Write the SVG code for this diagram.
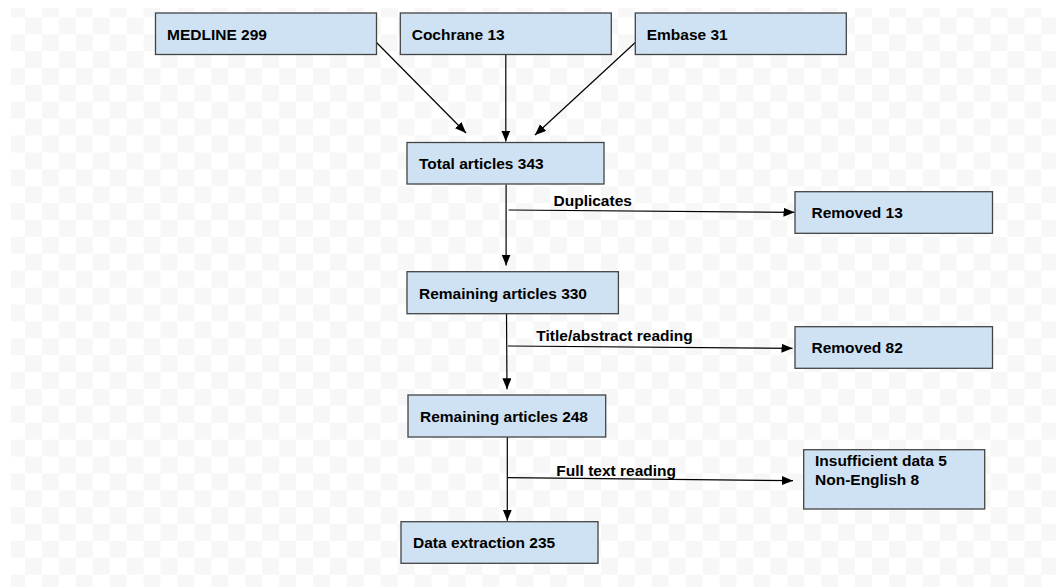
<svg xmlns="http://www.w3.org/2000/svg" width="1056" height="587" viewBox="0 0 1056 587">
<defs>
<pattern id="checker" patternUnits="userSpaceOnUse" x="8.06" y="0.44" width="33.88" height="33.78">
<rect x="0" y="0" width="16.94" height="16.89" fill="#f7f7f7"/>
<rect x="16.94" y="16.89" width="16.94" height="16.89" fill="#f7f7f7"/>
</pattern>
<marker id="arrow" markerUnits="userSpaceOnUse" markerWidth="12" markerHeight="10" refX="11" refY="4.5" orient="auto">
<path d="M0,0 L11,4.5 L0,9 z" fill="#000"/>
</marker>
<style>
.box{fill:#cfe2f3;stroke:#444;stroke-width:1.3}
.t{font-family:"Liberation Sans",Arial,sans-serif;font-weight:bold;font-size:15.5px;fill:#000}
.c{fill:none;stroke:#000;stroke-width:1.2;marker-end:url(#arrow)}
</style>
</defs>
<rect x="0" y="0" width="1056" height="587" fill="#fff"/>
<rect x="11" y="8" width="1045" height="579" fill="url(#checker)"/>
<g id="connectors">
<path class="c" d="M376.5,42.5 L466,133"/>
<path class="c" d="M505.8,54.5 L505.8,141.5"/>
<path class="c" d="M635,42.7 L535,135"/>
<path class="c" d="M506.1,184.5 L506.1,265.5"/>
<path class="c" d="M508.6,210 L794.5,212.3"/>
<path class="c" d="M506.5,313.7 L507,389.3"/>
<path class="c" d="M507.8,346 L792.5,348.3"/>
<path class="c" d="M507.3,437 L507.3,520.7"/>
<path class="c" d="M508,477.7 L793,480.7"/>
<text class="t" x="553.5" y="205.5">Duplicates</text>
<text class="t" x="536.3" y="341">Title/abstract reading</text>
<text class="t" x="556.3" y="476">Full text reading</text>
</g>
<g id="medline"><rect class="box" x="155.5" y="13" width="221" height="41.5"/><text class="t" x="167" y="39.5">MEDLINE 299</text></g>
<g id="cochrane"><rect class="box" x="400.3" y="13" width="211" height="41.5"/><text class="t" x="411.7" y="39.5">Cochrane 13</text></g>
<g id="embase"><rect class="box" x="635.3" y="13" width="211" height="41.5"/><text class="t" x="646.7" y="39.5">Embase 31</text></g>
<g id="total"><rect class="box" x="407" y="142.5" width="197" height="41.5"/><text class="t" x="419" y="169">Total articles 343</text></g>
<g id="removed13"><rect class="box" x="795" y="191.7" width="197.5" height="41.6"/><text class="t" x="811.5" y="218">Removed 13</text></g>
<g id="remaining330"><rect class="box" x="407" y="271.7" width="211.4" height="42"/><text class="t" x="419" y="299">Remaining articles 330</text></g>
<g id="removed82"><rect class="box" x="795" y="326.7" width="197.5" height="41.6"/><text class="t" x="811.5" y="353">Removed 82</text></g>
<g id="remaining248"><rect class="box" x="408" y="395" width="197.7" height="42"/><text class="t" x="420" y="421.7">Remaining articles 248</text></g>
<g id="excluded"><rect class="box" x="803.7" y="449.7" width="181" height="59.3"/><text class="t" x="815" y="466">Insufficient data 5</text><text class="t" x="815" y="485">Non-English 8</text></g>
<g id="dataextraction"><rect class="box" x="401" y="521.7" width="197" height="41.6"/><text class="t" x="413" y="548">Data extraction 235</text></g>
</svg>
